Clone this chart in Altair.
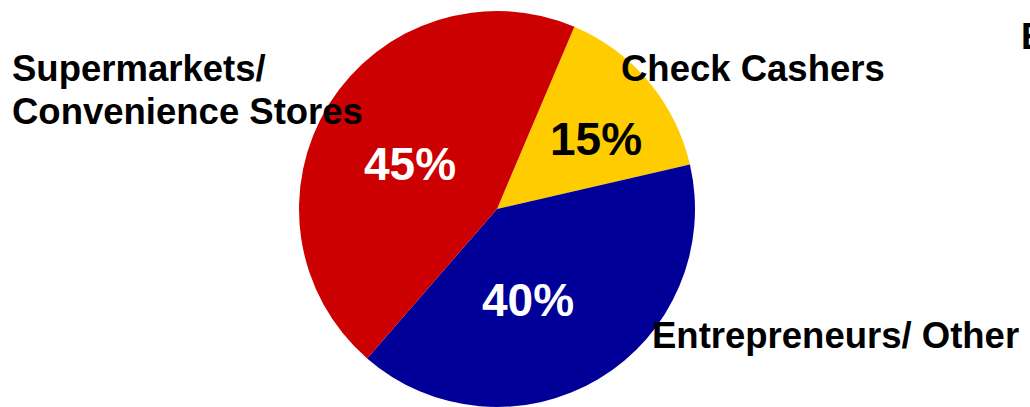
import math
import altair as alt
import pandas as pd

# Data
categories = ["Check Cashers", "Entrepreneurs/ Other", "Supermarkets/ Convenience Stores"]
values = [15, 40, 45]
pct_labels = ["15%", "40%", "45%"]
colors = ["#FFCC00", "#000099", "#CC0000"]

df = pd.DataFrame({"category": categories, "value": values, "order": [1, 2, 3]})

FONT = "Liberation Sans"
start = math.radians(23)

pie = alt.Chart(df).mark_arc(outerRadius=198, stroke=None).encode(
    theta=alt.Theta("value:Q", stack=True, scale=alt.Scale(range=[start, start + 2 * math.pi])),
    color=alt.Color("category:N", scale=alt.Scale(domain=categories, range=colors), legend=None),
    order=alt.Order("order:Q"),
    x=alt.value(497),
    y=alt.value(209),
)


def txt(s, x, y, size, color="black", align="left"):
    return alt.Chart(pd.DataFrame({"t": [s]})).mark_text(
        font=FONT, fontSize=size, fontWeight="bold", color=color,
        align=align, baseline="alphabetic"
    ).encode(text="t:N", x=alt.value(x), y=alt.value(y))


LBL = 36.5
layers = [
    pie,
    txt(pct_labels[0], 596, 155, 46, "black", "center"),
    txt(pct_labels[1], 528, 316, 46, "white", "center"),
    txt(pct_labels[2], 410, 180, 46, "white", "center"),
    txt("Supermarkets/", 12, 81, LBL),
    txt("Convenience Stores", 12, 124, LBL),
    txt("Check Cashers", 621, 81, LBL),
    txt("Entrepreneurs/ Other", 652, 348, LBL),
    txt("E", 1021, 49, LBL),
]

chart = alt.layer(*layers).properties(
    width=1030, height=407, padding=0, autosize=alt.AutoSizeParams(type="none"),
    background="white",
).configure_view(stroke=None)

chart.save("out.html", embed_options={"renderer": "svg", "actions": False})
